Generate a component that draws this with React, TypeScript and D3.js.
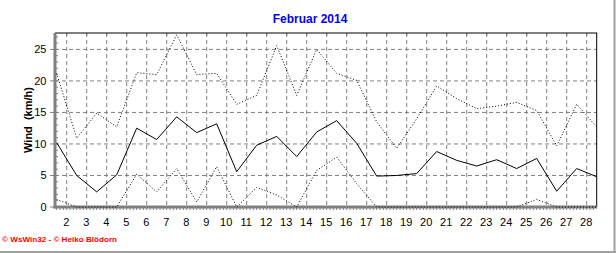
import React from "react";
import * as d3 from "d3";

const days = d3.range(1, 29);
const windAvg = [10.2, 5.0, 2.4, 5.1, 12.5, 10.7, 14.3, 11.8, 13.2, 5.6, 9.8, 11.2, 8.0, 11.9, 13.7, 10.1, 4.9, 5.0, 5.3, 8.8, 7.4, 6.5, 7.5, 6.1, 7.7, 2.5, 6.1, 4.8];
const windMax = [21.2, 10.9, 14.9, 12.7, 21.3, 21.0, 27.3, 21.0, 21.2, 16.3, 17.7, 25.6, 17.7, 25.0, 21.2, 20.1, 13.5, 9.3, 14.0, 19.2, 17.2, 15.6, 16.0, 16.6, 15.3, 9.7, 16.3, 12.7];
const windMin = [1.2, 0, 0, 0, 5.2, 2.4, 6.1, 0.8, 6.4, 0, 3.1, 1.9, 0, 5.8, 7.9, 3.7, 0, 0, 0, 0, 0, 0, 0, 0, 1.2, 0, 0, 0];
const xTickLabels = d3.range(2, 29);
const yTicks = [0, 5, 10, 15, 20, 25];
const title = "Februar 2014";
const yTitle = "Wind  (km/h)";
const credit = "© WsWin32 - © Heiko Blödorn";

export default function App() {
  const W = 616, H = 253;
  const left = 55, right = 596.7, top = 33, bottom = 207;
  const x = d3.scaleLinear().domain([1.415, 28.5]).range([left, right]);
  const y = d3.scaleLinear().domain([0, 27.6]).range([bottom, top]);

  const line = d3
    .line<number>()
    .x((_, i) => x(days[i] + 0.5))
    .y((v) => y(v));

  const minorX = d3.range(1.5, 28.5, 1 / 6).filter((d) => x(d) > left + 1 && x(d) < right);
  const minorY = d3.range(1, 28, 1).filter((v) => y(v) > top + 1);

  return (
    <svg
      width={W}
      height={H}
      style={{ position: "fixed", left: 0, top: 0, background: "#fff" }}
      fontFamily="Liberation Sans, Arial, sans-serif"
    >
      <rect x={0} y={0} width={W} height={H} fill="#fff" />
      {/* outer frame */}
      <line x1={614.5} x2={614.5} y1={0} y2={253} stroke="#a0a0a0" strokeWidth={2} />
      <line x1={0} x2={616} y1={252} y2={252} stroke="#a0a0a0" strokeWidth={2} />

      <text x={310} y={23} textAnchor="middle" fontSize={12} fontWeight="bold" fill="#0000ff">
        {title}
      </text>

      {/* grid */}
      {xTickLabels.map((d) => (
        <line key={"gx" + d} x1={x(d)} x2={x(d)} y1={top} y2={bottom} stroke="#808080" strokeDasharray="4,3" />
      ))}
      {yTicks.filter((v) => v > 0).map((v) => (
        <line key={"gy" + v} x1={left} x2={right} y1={y(v)} y2={y(v)} stroke="#808080" strokeDasharray="4,3" />
      ))}

      {/* top ticks */}
      {xTickLabels.map((d) => (
        <line key={"tt" + d} x1={x(d)} x2={x(d)} y1={top} y2={top + 3} stroke="#808080" />
      ))}

      {/* frame top/right */}
      <line x1={left} x2={right + 0.5} y1={top} y2={top} stroke="#000" />
      <line x1={right} x2={right} y1={top} y2={bottom} stroke="#000" />

      {/* minor ticks */}
      {minorX.map((d, i) => (
        <line key={"mx" + i} x1={x(d)} x2={x(d)} y1={bottom} y2={bottom + 3} stroke="#808080" />
      ))}
      {minorY.map((v) => (
        <line key={"my" + v} x1={left} x2={left + 3} y1={y(v)} y2={y(v)} stroke="#808080" />
      ))}

      {/* axes */}
      <line x1={left} x2={left} y1={top} y2={bottom + 1.5} stroke="#808080" strokeWidth={3} />
      <line x1={left - 1.5} x2={right + 0.5} y1={bottom} y2={bottom} stroke="#808080" strokeWidth={3} />

      {/* y labels */}
      {yTicks.map((v) => (
        <g key={"yl" + v}>
          <line x1={left - 5} x2={left} y1={y(v)} y2={y(v)} stroke="#808080" />
          <text x={46.5} y={y(v) + 4} textAnchor="end" fontSize={11} fill="#000">
            {v}
          </text>
        </g>
      ))}
      {xTickLabels.map((d) => (
        <text key={"xl" + d} x={x(d) - 0.5} y={226} textAnchor="middle" fontSize={11} fill="#000">
          {d}
        </text>
      ))}

      <text
        transform={`translate(32,120) rotate(-90)`}
        textAnchor="middle"
        fontSize={11}
        fontWeight="bold"
        fill="#000"
        style={{ whiteSpace: "pre" }}
      >
        {yTitle}
      </text>

      {/* series */}
      <path d={line(windMax) || ""} fill="none" stroke="#000" strokeWidth={1} strokeDasharray="1,2" />
      <path d={line(windMin) || ""} fill="none" stroke="#000" strokeWidth={1} strokeDasharray="1,2" />
      <path d={line(windAvg) || ""} fill="none" stroke="#000" strokeWidth={1} />

      <text x={2} y={242} fontSize={7.5} fontWeight="bold" fill="#ff0000" textLength={115} lengthAdjust="spacingAndGlyphs">
        {credit}
      </text>
    </svg>
  );
}
